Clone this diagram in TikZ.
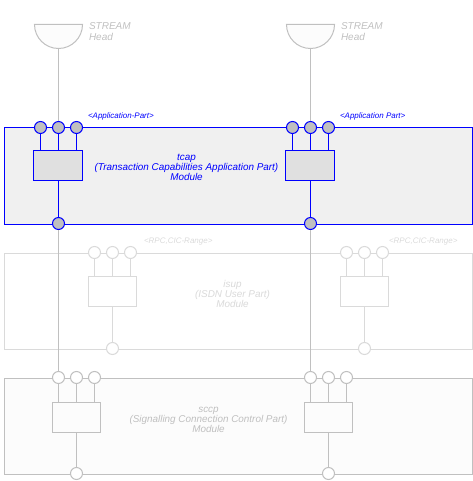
\documentclass[tikz,border=0pt]{standalone}
\usepackage{fontspec}
\setmainfont{Liberation Sans}
\usetikzlibrary{positioning}

\definecolor{tcapc}{RGB}{0,0,255}
\definecolor{isupc}{RGB}{218,218,218}
\definecolor{sccpc}{RGB}{192,192,192}
\definecolor{portfill}{RGB}{192,192,192}
\definecolor{tcapfill}{RGB}{240,240,240}
\definecolor{partfill}{RGB}{224,224,224}
\definecolor{lightfill}{RGB}{252,252,252}

\tikzset{
  modbox/.style={draw, anchor=north west, inner sep=0pt, minimum width=468pt, minimum height=96pt},
  part/.style={draw, inner sep=0pt, minimum width=49pt, minimum height=30pt},
  port/.style={circle, draw, inner sep=0pt, minimum size=12pt},
  title/.style={font=\itshape\fontsize{9.9}{10}\selectfont, align=center, inner sep=0pt},
  headtxt/.style={font=\itshape\fontsize{10}{11}\selectfont, anchor=west, align=left, inner sep=0pt},
  tag/.style={font=\itshape\fontsize{8}{8}\selectfont, anchor=west, inner sep=0pt},
}

\begin{document}
\begin{tikzpicture}[x=1pt, y=-1pt, line width=1pt]
    \useasboundingbox (0,0) rectangle (472,481);
  \begin{scope}[shift={(0.5,0.5)}]
    % STREAM heads
    \draw[sccpc, fill=lightfill] (34,24) arc[start angle=180, end angle=0, radius=24] -- cycle;
    \draw[sccpc, fill=lightfill] (286,24) arc[start angle=180, end angle=0, radius=24] -- cycle;
    \coordinate (hd1) at (58,48);
    \coordinate (hd2) at (310,48);
    \node[headtxt, sccpc] (hdt1) at (88,31) {STREAM\\Head};
    \node[headtxt, sccpc] (hdt2) at (340,31) {STREAM\\Head};

    % Module boxes
    \node[modbox, draw=tcapc, fill=tcapfill] (tcap) at (3,127) {};
    \node[modbox, draw=isupc, fill=white] (isup) at (3,252) {};
    \node[modbox, draw=sccpc, fill=lightfill] (sccp) at (3,377) {};

    % Module titles
    \node[title, tcapc] (tcapt) at (186,167) {tcap\\(Transaction Capabilities Application Part)\\Module};
    \node[title, isupc] (isupt) at (232,293) {isup\\(ISDN User Part)\\Module};
    \node[title, sccpc] (sccpt) at (208,419) {sccp\\(Signalling Connection Control Part)\\Module};

    % Port tags
    \node[tag, tcapc] (tg1) at (87,116) {<Application-Part>};
    \node[tag, tcapc] (tg2) at (339,116) {<Application Part>};
    \node[tag, isupc] (tg3) at (143,241) {<RPC,CIC-Range>};
    \node[tag, isupc] (tg4) at (388,241) {<RPC,CIC-Range>};

    % tcap parts
    \node[part, draw=tcapc, fill=partfill] (tp1) at (57.5,165) {};
    \node[part, draw=tcapc, fill=partfill] (tp2) at (309.5,165) {};
    % isup parts
    \node[part, draw=isupc, fill=white, minimum width=48pt] (ip1) at (112,291) {};
    \node[part, draw=isupc, fill=white, minimum width=48pt] (ip2) at (364,291) {};
    % sccp parts
    \node[part, draw=sccpc, fill=lightfill, minimum width=48pt] (sp1) at (76,417) {};
    \node[part, draw=sccpc, fill=lightfill, minimum width=48pt] (sp2) at (328,417) {};

    % Ports: tcap
    \node[port, draw=tcapc, fill=portfill] (ta1) at (40,127) {};
    \node[port, draw=tcapc, fill=portfill] (tb1) at (58,127) {};
    \node[port, draw=tcapc, fill=portfill] (tc1) at (76,127) {};
    \node[port, draw=tcapc, fill=portfill] (td1) at (58,223) {};
    \node[port, draw=tcapc, fill=portfill] (ta2) at (292,127) {};
    \node[port, draw=tcapc, fill=portfill] (tb2) at (310,127) {};
    \node[port, draw=tcapc, fill=portfill] (tc2) at (328,127) {};
    \node[port, draw=tcapc, fill=portfill] (td2) at (310,223) {};
    % Ports: isup
    \node[port, draw=isupc, fill=white] (ia1) at (94,252) {};
    \node[port, draw=isupc, fill=white] (ib1) at (112,252) {};
    \node[port, draw=isupc, fill=white] (ic1) at (130,252) {};
    \node[port, draw=isupc, fill=white] (id1) at (112,348) {};
    \node[port, draw=isupc, fill=white] (ia2) at (346,252) {};
    \node[port, draw=isupc, fill=white] (ib2) at (364,252) {};
    \node[port, draw=isupc, fill=white] (ic2) at (382,252) {};
    \node[port, draw=isupc, fill=white] (id2) at (364,348) {};
    % Ports: sccp
    \node[port, draw=sccpc, fill=white] (sa1) at (58,377) {};
    \node[port, draw=sccpc, fill=white] (sb1) at (76,377) {};
    \node[port, draw=sccpc, fill=white] (sc1) at (94,377) {};
    \node[port, draw=sccpc, fill=white] (sd1) at (76,473) {};
    \node[port, draw=sccpc, fill=white] (sa2) at (310,377) {};
    \node[port, draw=sccpc, fill=white] (sb2) at (328,377) {};
    \node[port, draw=sccpc, fill=white] (sc2) at (346,377) {};
    \node[port, draw=sccpc, fill=white] (sd2) at (328,473) {};

    % Port wiring inside the modules
    \draw[tcapc] (ta1) -- (ta1 |- tp1.north) (tb1) -- (tb1 |- tp1.north) (tc1) -- (tc1 |- tp1.north) (td1 |- tp1.south) -- (td1);
    \draw[tcapc] (ta2) -- (ta2 |- tp2.north) (tb2) -- (tb2 |- tp2.north) (tc2) -- (tc2 |- tp2.north) (td2 |- tp2.south) -- (td2);
    \draw[isupc] (ia1) -- (ia1 |- ip1.north) (ib1) -- (ib1 |- ip1.north) (ic1) -- (ic1 |- ip1.north) (id1 |- ip1.south) -- (id1);
    \draw[isupc] (ia2) -- (ia2 |- ip2.north) (ib2) -- (ib2 |- ip2.north) (ic2) -- (ic2 |- ip2.north) (id2 |- ip2.south) -- (id2);
    \draw[sccpc] (sa1) -- (sa1 |- sp1.north) (sb1) -- (sb1 |- sp1.north) (sc1) -- (sc1 |- sp1.north) (sd1 |- sp1.south) -- (sd1);
    \draw[sccpc] (sa2) -- (sa2 |- sp2.north) (sb2) -- (sb2 |- sp2.north) (sc2) -- (sc2 |- sp2.north) (sd2 |- sp2.south) -- (sd2);

    % Streams
    \draw[sccpc] (hd1) -- (tb1) (td1) -- (sa1);
    \draw[sccpc] (hd2) -- (tb2) (td2) -- (sa2);
  \end{scope}
\end{tikzpicture}
\end{document}
